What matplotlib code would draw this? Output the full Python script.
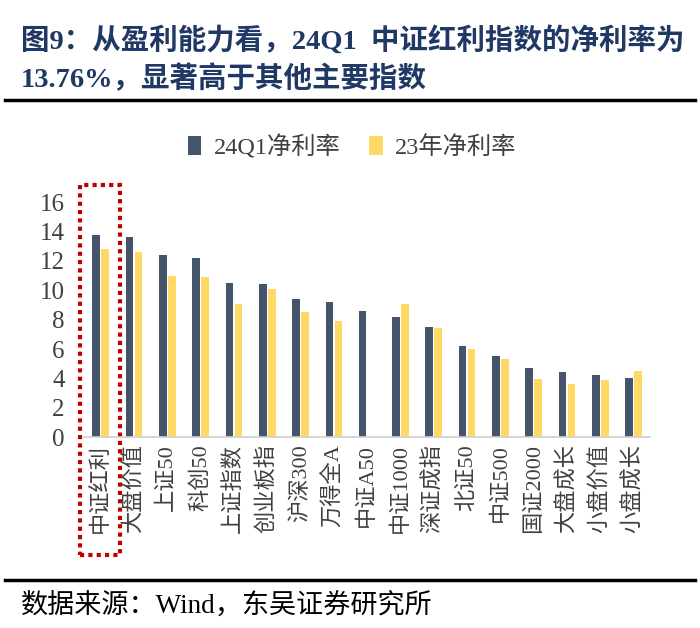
import numpy as np
import matplotlib.pyplot as plt
from matplotlib.patches import Rectangle
from matplotlib.lines import Line2D

plt.rcParams['font.family'] = ['Liberation Serif', 'Noto Sans CJK SC']

categories = ['中证红利', '大盘价值', '上证50', '科创50', '上证指数', '创业板指', '沪深300',
              '万得全A', '中证A50', '中证1000', '深证成指', '北证50', '中证500', '国证2000',
              '大盘成长', '小盘价值', '小盘成长']
margin_24q1 = [13.76, 13.6, 12.4, 12.2, 10.5, 10.4, 9.4, 9.2, 8.6, 8.2, 7.5, 6.2, 5.5, 4.7, 4.4, 4.2, 4.0]
margin_23 = [12.8, 12.6, 11.0, 10.9, 9.1, 10.1, 8.5, 7.9, np.nan, 9.1, 7.4, 6.0, 5.3, 3.95, 3.6, 3.9, 4.5]
series_names = ['24Q1净利率', '23年净利率']
yticks = [0, 2, 4, 6, 8, 10, 12, 14, 16]

dark = '#44546A'
yellow = '#FFD966'
navy = '#1F3864'

fig = plt.figure(figsize=(7, 6.28), dpi=100)
ax = fig.add_axes([0.12, 0.304, 0.809, 0.374])

x = np.arange(len(categories))
w = 0.23
ax.bar(x - 0.135, margin_24q1, width=w, color=dark, label=series_names[0])
ax.bar(x + 0.135, margin_23, width=w, color=yellow, label=series_names[1])

ax.set_xlim(-0.5, len(categories) - 0.5)
ax.set_ylim(0, 16)
ax.set_yticks(yticks)
ax.set_xticks(x)
ax.set_xticklabels(categories, rotation=90, fontsize=16, color='#404040')
ax.tick_params(axis='y', length=0, labelsize=18, labelcolor='#404040', pad=14)
ax.tick_params(axis='x', length=0, pad=5)
for s in ['top', 'right', 'left']:
    ax.spines[s].set_visible(False)
ax.spines['bottom'].set_color('#D0D0D0')
ax.spines['bottom'].set_linewidth(1.2)

# red dotted highlight box around first category
rect = Rectangle((-0.62, -8.0), 1.2, 25.2, fill=False, edgecolor='#C00000',
                 linestyle=(0, (1, 1)), linewidth=3, clip_on=False)
ax.add_patch(rect)

fig.legend(loc='center', bbox_to_anchor=(0.503, 0.766), ncol=2, frameon=False,
           fontsize=17.5, handlelength=0.55, handleheight=0.8, handletextpad=0.5,
           columnspacing=1.2, labelcolor='#404040')

# title
fig.text(0.03, 0.935, '图9：从盈利能力看，24Q1  中证红利指数的净利率为', fontsize=20.5,
         fontweight='bold', color=navy, va='center', ha='left')
fig.text(0.03, 0.875, '13.76%，显著高于其他主要指数', fontsize=20.5,
         fontweight='bold', color=navy, va='center', ha='left')
fig.add_artist(Line2D([0.007, 0.993], [0.84, 0.84], color='black', lw=2.5,
                      transform=fig.transFigure))
fig.add_artist(Line2D([0.007, 0.993], [0.076, 0.076], color='black', lw=2.5,
                      transform=fig.transFigure))
fig.text(0.03, 0.036, '数据来源：Wind，东吴证券研究所', fontsize=19.5, color='black',
         va='center', ha='left')

fig.savefig('out.png', dpi=100)
